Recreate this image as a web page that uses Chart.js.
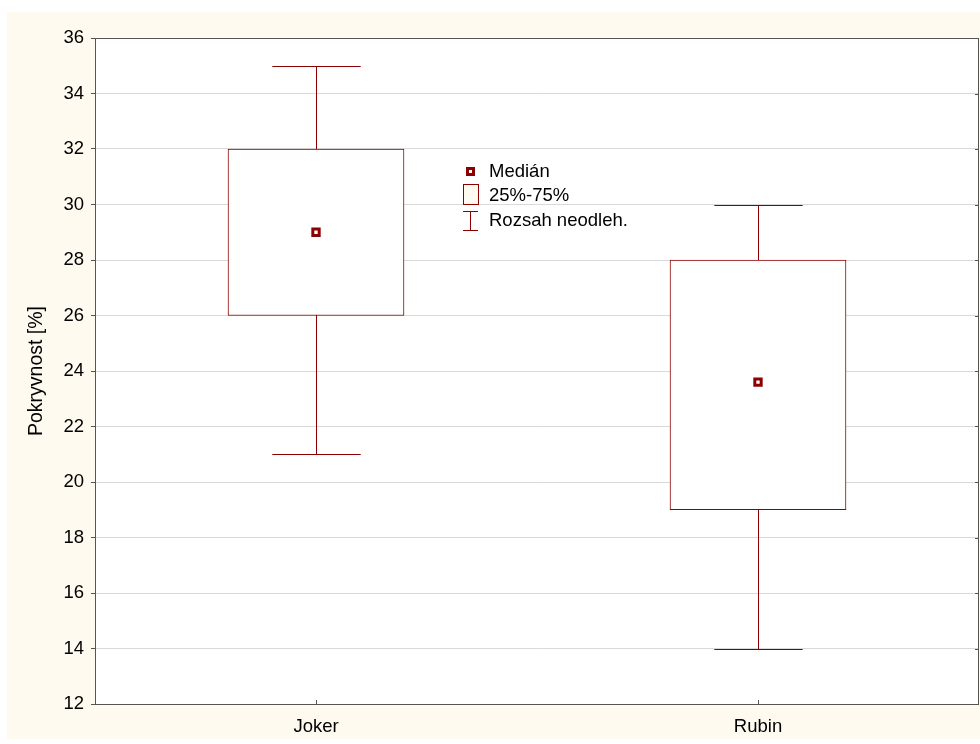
<!DOCTYPE html>
<html>
<head>
<meta charset="utf-8">
<script src="https://cdn.jsdelivr.net/npm/chart.js@4.4.1/dist/chart.umd.min.js"></script>
<style>
  body { margin: 0; background: #ffffff; }
  #wrap { position: absolute; left: 7px; top: 12px; width: 973px; height: 727px; }
</style>
</head>
<body>
<div id="wrap"><canvas id="boxChart"></canvas></div>
<script>
// Box plot values
const categories = ['Joker', 'Rubin'];
const whiskerMin = [21, 14];
const quartile1 = [26, 19];
const medians = [29, 23.6];
const quartile3 = [32, 28];
const whiskerMax = [35, 30];
const yMin = 12, yMax = 36, yStep = 2;

const darkRed = '#8b0000';
const cream = '#fffaf0';
const fontFamily = 'Arial, "Liberation Sans", sans-serif';

// background, whiskers, frame and legend
const boxPlotExtras = {
    id: 'boxPlotExtras',
    beforeDraw(chart) {
        const ctx = chart.ctx;
        const a = chart.chartArea;
        ctx.save();
        ctx.fillStyle = cream;
        ctx.fillRect(0, 0, chart.width, chart.height);
        ctx.fillStyle = '#ffffff';
        ctx.fillRect(a.left, a.top, a.right - a.left, a.bottom - a.top);
        ctx.restore();
    },
    beforeDatasetsDraw(chart) {
        const ctx = chart.ctx;
        const x = chart.scales.x;
        const y = chart.scales.y;
        const capHalf = x.width / categories.length * 0.1;
        ctx.save();
        ctx.strokeStyle = darkRed;
        ctx.lineWidth = 1;
        categories.forEach((c, i) => {
            const cx = Math.round(x.getPixelForValue(i)) + 0.5;
            const yLo = Math.round(y.getPixelForValue(whiskerMin[i])) + 0.5;
            const yHi = Math.round(y.getPixelForValue(whiskerMax[i])) + 0.5;
            ctx.beginPath();
            ctx.moveTo(cx, yLo);
            ctx.lineTo(cx, yHi);
            ctx.moveTo(cx - capHalf, yLo);
            ctx.lineTo(cx + capHalf, yLo);
            ctx.moveTo(cx - capHalf, yHi);
            ctx.lineTo(cx + capHalf, yHi);
            ctx.stroke();
        });
        ctx.restore();
    },
    afterDraw(chart) {
        const ctx = chart.ctx;
        const a = chart.chartArea;
        const x = chart.scales.x;
        const y = chart.scales.y;
        ctx.save();
        // frame
        ctx.strokeStyle = '#555555';
        ctx.lineWidth = 1;
        ctx.strokeRect(a.left + 0.5, a.top + 0.5, a.right - a.left - 1, a.bottom - a.top);
        // inward ticks at categories and on right side
        ctx.beginPath();
        categories.forEach((c, i) => {
            const cx = Math.round(x.getPixelForValue(i)) + 0.5;
            ctx.moveTo(cx, a.bottom);
            ctx.lineTo(cx, a.bottom - 4);
        });
        for (let v = yMin; v <= yMax; v += yStep) {
            const py = Math.round(y.getPixelForValue(v)) + 0.5;
            ctx.moveTo(a.right - 1, py);
            ctx.lineTo(a.right - 4, py);
        }
        ctx.stroke();

        // legend
        const lx = a.left + 371;
        const ly = a.top + 133;
        ctx.font = '18.5px ' + fontFamily;
        ctx.textBaseline = 'middle';
        ctx.textAlign = 'left';
        // median marker
        ctx.fillStyle = darkRed;
        ctx.fillRect(lx, ly - 4, 9, 9);
        ctx.fillStyle = '#ffffff';
        ctx.fillRect(lx + 3, ly - 1, 3, 3);
        // quartile box
        ctx.fillStyle = cream;
        ctx.fillRect(lx - 3, ly + 14, 15, 20);
        ctx.strokeStyle = darkRed;
        ctx.strokeRect(lx - 2.5, ly + 13.5, 15, 20);
        // whisker range
        ctx.beginPath();
        ctx.moveTo(lx - 3, ly + 40.5);
        ctx.lineTo(lx + 12, ly + 40.5);
        ctx.moveTo(lx - 3, ly + 59.5);
        ctx.lineTo(lx + 12, ly + 59.5);
        ctx.moveTo(lx + 4.5, ly + 40.5);
        ctx.lineTo(lx + 4.5, ly + 59.5);
        ctx.stroke();
        ctx.fillStyle = '#000000';
        ctx.fillText('Medián', lx + 23, ly + 1);
        ctx.fillText('25%-75%', lx + 23, ly + 25);
        ctx.fillText('Rozsah neodleh.', lx + 23, ly + 50);
        ctx.restore();
    }
};

new Chart(document.getElementById('boxChart'), {
    type: 'bar',
    data: {
        labels: categories,
        datasets: [
            {
                type: 'line',
                label: 'Medián',
                data: medians,
                showLine: false,
                pointStyle: 'rect',
                pointRadius: 4.5,
                pointBorderWidth: 3,
                pointBackgroundColor: '#ffffff',
                pointBorderColor: darkRed,
                order: 0
            },
            {
                label: '25%-75%',
                data: categories.map((c, i) => [quartile1[i], quartile3[i]]),
                backgroundColor: '#ffffff',
                borderColor: darkRed,
                borderWidth: 1,
                borderSkipped: false,
                barThickness: 176,
                order: 1
            }
        ]
    },
    options: {
        responsive: true,
        maintainAspectRatio: false,
        animation: false,
        layout: { autoPadding: false, padding: { left: 0, top: 26, right: 1, bottom: 0 } },
        plugins: {
            legend: { display: false },
            tooltip: { enabled: false }
        },
        scales: {
            x: {
                offset: true,
                grid: { display: false },
                border: { display: false },
                ticks: {
                    color: '#000000',
                    padding: 4,
                    font: { family: fontFamily, size: 18.5 }
                },
                afterFit: (scale) => {
                    scale.height = 35;
                    scale.paddingLeft = 0;
                    scale.paddingRight = 0;
                }
            },
            y: {
                min: yMin,
                max: yMax,
                grid: {
                    color: '#d9d9d9',
                    tickColor: '#555555',
                    tickLength: 4
                },
                border: { color: '#555555' },
                ticks: {
                    stepSize: yStep,
                    color: '#000000',
                    padding: 7,
                    font: { family: fontFamily, size: 18.5 }
                },
                title: {
                    display: true,
                    text: 'Pokryvnost [%]',
                    color: '#000000',
                    font: { family: fontFamily, size: 19.5 },
                    padding: { top: 18, bottom: 0 }
                },
                afterFit: (scale) => {
                    scale.width = 88;
                    scale.paddingTop = 0;
                    scale.paddingBottom = 0;
                }
            }
        }
    },
    plugins: [boxPlotExtras]
});
</script>
</body>
</html>
